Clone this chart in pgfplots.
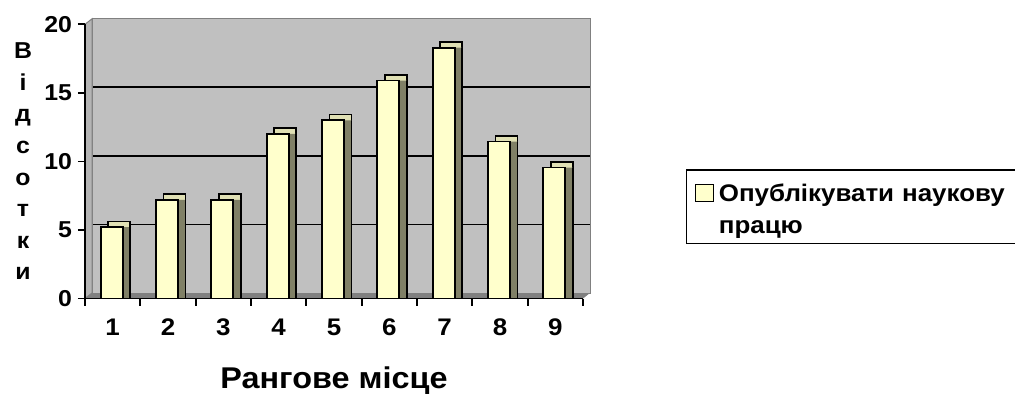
\documentclass[border=0pt]{standalone}
\usepackage{fontspec}
\setmainfont{Liberation Sans}[FakeStretch=1.08]
\usepackage{pgfplots}
\usepackage{pgfplotstable}
\pgfplotsset{compat=1.18}
\definecolor{wallgray}{HTML}{C0C0C0}
\definecolor{floorgray}{HTML}{808080}
\definecolor{sidewall}{HTML}{B4B4B4}
\definecolor{barfront}{HTML}{FFFFCC}
\definecolor{barside}{HTML}{808066}
\definecolor{bartop}{HTML}{E0E0B4}

\pgfplotstableread{
x v
1 5.2
2 7.2
3 7.2
4 12.0
5 13.0
6 15.9
7 18.3
8 11.45
9 9.55
}\datatable

\pgfplotsset{
  base/.style={scale only axis, width=498bp, height=274.2bp,
    xmin=0.5, xmax=9.5, ymin=0, ymax=20, clip=false},
  barlayer/.style={base, hide axis},
}

\begin{document}
\begin{tikzpicture}[x=1bp,y=1bp]
\useasboundingbox (0,0) rectangle (1015,394);
\clip (0,0) rectangle (1015,394);
% back wall
\begin{axis}[base, at={(92bp,101bp)}, anchor=south west,
  axis background/.style={fill=wallgray},
  axis line style={draw=floorgray, line width=1bp},
  xtick=\empty, ytick={5,10,15}, yticklabels={}, ymajorgrids,
  major grid style={black, line width=1.8bp}, major tick length=0pt]
\addplot[draw=none] coordinates {(1,0)};
\end{axis}
% floor and side wall
\fill[floorgray] (85,95.5) -- (583,95.5) -- (590,101) -- (92,101) -- cycle;
\filldraw[fill=sidewall, draw=floorgray, line width=1bp] (85,95.5) -- (92,101) -- (92,375.2) -- (85,369.7) -- cycle;
% bar depth layers
\begin{axis}[barlayer, at={(92.5bp,101.2bp)}, anchor=south west]
\addplot[ybar, bar width=22bp, bar shift=-1bp, fill=bartop, draw=black, line width=1.8bp] table[x=x,y=v]{\datatable};
\end{axis}
\begin{axis}[barlayer, at={(92.5bp,95.5bp)}, anchor=south west]
\addplot[ybar, bar width=22bp, bar shift=-1bp, fill=barside, draw=none] table[x=x,y=v]{\datatable};
\addplot[ybar, bar width=0bp, bar shift=10bp, fill=none, draw=black, line width=1.8bp] table[x=x,y=v]{\datatable};
\end{axis}
% front
\begin{axis}[base, at={(85bp,95.5bp)}, anchor=south west,
  axis x line=bottom, axis y line=left,
  axis line style={-, black, line width=1.8bp},
  xtick={0.5,1.5,...,9.5}, xticklabels={1,2,3,4,5,6,7,8,9},
  x tick label as interval,
  ytick={0,5,10,15,20},
  tick align=outside, major tick length=7bp,
  tick style={black, line width=1.8bp},
  /pgf/number format/assume math mode=true,
  yticklabel style={font=\fontsize{23bp}{27bp}\selectfont\bfseries, xshift=-2.5bp},
  xticklabel style={font=\fontsize{24bp}{28bp}\selectfont\bfseries, anchor=base, yshift=-30bp},
  xlabel={Рангове місце},
  xlabel style={font=\fontsize{30bp}{35bp}\selectfont\bfseries, at={(axis description cs:0.5,-0.330)}, anchor=base},
  ylabel={В\\і\\д\\с\\о\\т\\к\\и},
  ylabel style={font=\fontsize{23bp}{31.6bp}\selectfont\bfseries, align=center, rotate=-90, at={(axis description cs:-0.1245,0.5)}, anchor=center},
  legend style={at={(axis description cs:1.2068,0.4711)}, anchor=north west,
    draw=black, line width=1.5bp, inner sep=0pt, row sep=0pt, column sep=2.5bp,
    cells={anchor=base west, inner sep=0pt},
    font=\fontsize{24bp}{30bp}\selectfont\bfseries},
]
\addplot[ybar, bar width=22bp, bar shift=-1bp, fill=barfront, draw=black, line width=1.8bp,
  legend image code/.code={\path[draw=none, fill=none] (0bp,0bp) -- (27bp,0bp);
    \draw[fill=barfront, draw=black, line width=1.3bp] (9bp,0.2bp) rectangle (27bp,16.8bp);}]
  table[x=x,y=v]{\datatable};
\addlegendentry[text width=320bp, align=left, text height=29.5bp, text depth=0bp]{Опублікувати наукову}
\addlegendimage{empty legend}
\addlegendentry[text width=320bp, align=left, text height=27.5bp, text depth=8.4bp]{працю}
\end{axis}
\end{tikzpicture}
\end{document}
